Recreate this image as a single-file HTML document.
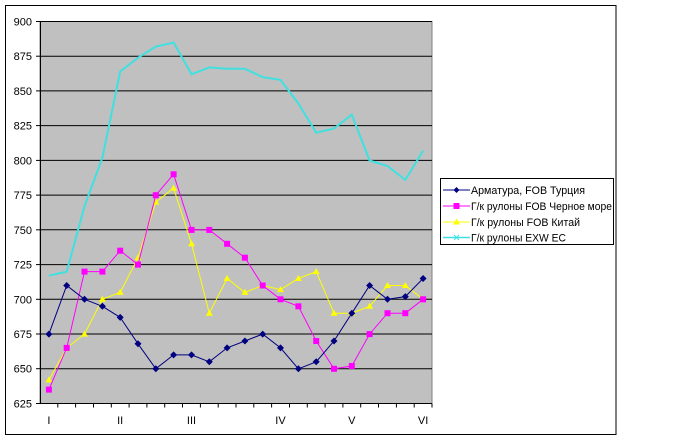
<!DOCTYPE html>
<html><head><meta charset="utf-8"><style>
html,body{margin:0;padding:0;background:#fff;}
svg{display:block;}
text{font-family:"Liberation Sans",Arial,sans-serif;font-size:11px;fill:#000;}
</style></head><body>
<svg width="674" height="442" viewBox="0 0 674 442" xmlns="http://www.w3.org/2000/svg">
<rect x="0" y="0" width="674" height="442" fill="#fff"/>
<rect x="5.5" y="5.5" width="610.5" height="429" fill="none" stroke="#000" stroke-width="1"/>
<!-- plot area -->
<rect x="40" y="21.5" width="392" height="382" fill="#C0C0C0" stroke="#808080" stroke-width="1"/>
<g stroke="#000" stroke-width="1">
<line x1="40" y1="21.5" x2="432" y2="21.5"/>
<line x1="40" y1="56.2" x2="432" y2="56.2"/>
<line x1="40" y1="90.9" x2="432" y2="90.9"/>
<line x1="40" y1="125.6" x2="432" y2="125.6"/>
<line x1="40" y1="160.4" x2="432" y2="160.4"/>
<line x1="40" y1="195.1" x2="432" y2="195.1"/>
<line x1="40" y1="229.8" x2="432" y2="229.8"/>
<line x1="40" y1="264.6" x2="432" y2="264.6"/>
<line x1="40" y1="299.3" x2="432" y2="299.3"/>
<line x1="40" y1="334.0" x2="432" y2="334.0"/>
<line x1="40" y1="368.7" x2="432" y2="368.7"/>
<line x1="40.5" y1="21.5" x2="40.5" y2="403.5"/>
<line x1="40" y1="403.5" x2="432" y2="403.5"/>
<!-- y ticks -->
<line x1="36" y1="21.5" x2="40" y2="21.5"/>
<line x1="36" y1="56.2" x2="40" y2="56.2"/>
<line x1="36" y1="90.9" x2="40" y2="90.9"/>
<line x1="36" y1="125.6" x2="40" y2="125.6"/>
<line x1="36" y1="160.4" x2="40" y2="160.4"/>
<line x1="36" y1="195.1" x2="40" y2="195.1"/>
<line x1="36" y1="229.8" x2="40" y2="229.8"/>
<line x1="36" y1="264.6" x2="40" y2="264.6"/>
<line x1="36" y1="299.3" x2="40" y2="299.3"/>
<line x1="36" y1="334.0" x2="40" y2="334.0"/>
<line x1="36" y1="368.7" x2="40" y2="368.7"/>
<line x1="36" y1="403.5" x2="40" y2="403.5"/>
<!-- x ticks -->
<line x1="57.8" y1="403.5" x2="57.8" y2="407.5"/>
<line x1="75.6" y1="403.5" x2="75.6" y2="407.5"/>
<line x1="93.5" y1="403.5" x2="93.5" y2="407.5"/>
<line x1="111.3" y1="403.5" x2="111.3" y2="407.5"/>
<line x1="129.1" y1="403.5" x2="129.1" y2="407.5"/>
<line x1="146.9" y1="403.5" x2="146.9" y2="407.5"/>
<line x1="164.7" y1="403.5" x2="164.7" y2="407.5"/>
<line x1="182.5" y1="403.5" x2="182.5" y2="407.5"/>
<line x1="200.4" y1="403.5" x2="200.4" y2="407.5"/>
<line x1="218.2" y1="403.5" x2="218.2" y2="407.5"/>
<line x1="236.0" y1="403.5" x2="236.0" y2="407.5"/>
<line x1="253.8" y1="403.5" x2="253.8" y2="407.5"/>
<line x1="271.6" y1="403.5" x2="271.6" y2="407.5"/>
<line x1="289.5" y1="403.5" x2="289.5" y2="407.5"/>
<line x1="307.3" y1="403.5" x2="307.3" y2="407.5"/>
<line x1="325.1" y1="403.5" x2="325.1" y2="407.5"/>
<line x1="342.9" y1="403.5" x2="342.9" y2="407.5"/>
<line x1="360.7" y1="403.5" x2="360.7" y2="407.5"/>
<line x1="378.5" y1="403.5" x2="378.5" y2="407.5"/>
<line x1="396.4" y1="403.5" x2="396.4" y2="407.5"/>
<line x1="414.2" y1="403.5" x2="414.2" y2="407.5"/>
<line x1="432" y1="403.5" x2="432" y2="407.5"/>
</g>
<!-- y labels -->
<g text-anchor="end">
<text x="32" y="25.5">900</text>
<text x="32" y="60.2">875</text>
<text x="32" y="94.9">850</text>
<text x="32" y="129.6">825</text>
<text x="32" y="164.4">800</text>
<text x="32" y="199.1">775</text>
<text x="32" y="233.8">750</text>
<text x="32" y="268.6">725</text>
<text x="32" y="303.3">700</text>
<text x="32" y="338.0">675</text>
<text x="32" y="372.7">650</text>
<text x="32" y="407.5">625</text>
</g>
<!-- x labels -->
<g text-anchor="middle">
<text x="48.9" y="424">I</text>
<text x="120.2" y="424">II</text>
<text x="191.5" y="424">III</text>
<text x="280.5" y="424">IV</text>
<text x="351.8" y="424">V</text>
<text x="423.1" y="424">VI</text>
</g>
<!-- cyan series -->
<polyline fill="none" stroke="#40E0E0" stroke-width="2" points="48.9,275.7 66.7,271.6 84.5,206.3 102.4,157.7 120.2,71.5 138.0,57.7 155.8,46.6 173.6,42.5 191.5,74.3 209.3,67.4 227.1,68.8 244.9,68.8 262.7,77.1 280.5,79.9 298.4,103.5 316.2,132.7 334.0,128.5 351.8,114.6 369.6,160.5 387.5,166.0 405.3,179.9 423.1,150.7"/>
<!-- yellow series -->
<polyline fill="none" stroke="#FFFF00" stroke-width="1" points="48.9,379.9 66.7,347.9 84.5,334.1 102.4,299.3 120.2,292.4 138.0,257.7 155.8,202.1 173.6,188.2 191.5,243.8 209.3,313.2 227.1,278.5 244.9,292.4 262.7,285.5 280.5,289.6 298.4,278.5 316.2,271.6 334.0,313.2 351.8,313.2 369.6,306.3 387.5,285.5 405.3,285.5 423.1,299.3"/>
<g fill="#FFFF00">
<polygon points="48.9,376.4 52.4,382.4 45.4,382.4"/>
<polygon points="66.7,344.4 70.2,350.4 63.2,350.4"/>
<polygon points="84.5,330.6 88,336.6 81,336.6"/>
<polygon points="102.4,295.8 105.9,301.8 98.9,301.8"/>
<polygon points="120.2,288.9 123.7,294.9 116.7,294.9"/>
<polygon points="138.0,254.2 141.5,260.2 134.5,260.2"/>
<polygon points="155.8,198.6 159.3,204.6 152.3,204.6"/>
<polygon points="173.6,184.7 177.1,190.7 170.1,190.7"/>
<polygon points="191.5,240.3 195,246.3 188,246.3"/>
<polygon points="209.3,309.7 212.8,315.7 205.8,315.7"/>
<polygon points="227.1,275 230.6,281 223.6,281"/>
<polygon points="244.9,288.9 248.4,294.9 241.4,294.9"/>
<polygon points="262.7,282 266.2,288 259.2,288"/>
<polygon points="280.5,286.1 284,292.1 277,292.1"/>
<polygon points="298.4,275 301.9,281 294.9,281"/>
<polygon points="316.2,268.1 319.7,274.1 312.7,274.1"/>
<polygon points="334.0,309.7 337.5,315.7 330.5,315.7"/>
<polygon points="351.8,309.7 355.3,315.7 348.3,315.7"/>
<polygon points="369.6,302.8 373.1,308.8 366.1,308.8"/>
<polygon points="387.5,282 391,288 384,288"/>
<polygon points="405.3,282 408.8,288 401.8,288"/>
<polygon points="423.1,295.8 426.6,301.8 419.6,301.8"/>
</g>
<!-- pink series -->
<polyline fill="none" stroke="#FF00FF" stroke-width="1" points="48.9,389.6 66.7,347.9 84.5,271.6 102.4,271.6 120.2,250.7 138.0,264.6 155.8,195.2 173.6,174.3 191.5,229.9 209.3,229.9 227.1,243.8 244.9,257.7 262.7,285.5 280.5,299.3 298.4,306.3 316.2,341.0 334.0,368.8 351.8,366.0 369.6,334.1 387.5,313.2 405.3,313.2 423.1,299.3"/>
<g fill="#FF00FF">
<rect x="45.9" y="386.6" width="6" height="6"/>
<rect x="63.7" y="344.9" width="6" height="6"/>
<rect x="81.5" y="268.6" width="6" height="6"/>
<rect x="99.4" y="268.6" width="6" height="6"/>
<rect x="117.2" y="247.7" width="6" height="6"/>
<rect x="135.0" y="261.6" width="6" height="6"/>
<rect x="152.8" y="192.2" width="6" height="6"/>
<rect x="170.6" y="171.3" width="6" height="6"/>
<rect x="188.5" y="226.9" width="6" height="6"/>
<rect x="206.3" y="226.9" width="6" height="6"/>
<rect x="224.1" y="240.8" width="6" height="6"/>
<rect x="241.9" y="254.7" width="6" height="6"/>
<rect x="259.7" y="282.5" width="6" height="6"/>
<rect x="277.5" y="296.3" width="6" height="6"/>
<rect x="295.4" y="303.3" width="6" height="6"/>
<rect x="313.2" y="338.0" width="6" height="6"/>
<rect x="331.0" y="365.8" width="6" height="6"/>
<rect x="348.8" y="363.0" width="6" height="6"/>
<rect x="366.6" y="331.1" width="6" height="6"/>
<rect x="384.5" y="310.2" width="6" height="6"/>
<rect x="402.3" y="310.2" width="6" height="6"/>
<rect x="420.1" y="296.3" width="6" height="6"/>
</g>
<!-- blue series -->
<polyline fill="none" stroke="#000080" stroke-width="1" points="48.9,334.1 66.7,285.5 84.5,299.3 102.4,306.3 120.2,317.4 138.0,343.8 155.8,368.8 173.6,354.9 191.5,354.9 209.3,361.8 227.1,347.9 244.9,341.0 262.7,334.1 280.5,347.9 298.4,368.8 316.2,361.8 334.0,341.0 351.8,313.2 369.6,285.5 387.5,299.3 405.3,296.6 423.1,278.5"/>
<g fill="#000080">
<polygon points="48.9,330.6 52.4,334.1 48.9,337.6 45.4,334.1"/>
<polygon points="66.7,282 70.2,285.5 66.7,289 63.2,285.5"/>
<polygon points="84.5,295.8 88,299.3 84.5,302.8 81,299.3"/>
<polygon points="102.4,302.8 105.9,306.3 102.4,309.8 98.9,306.3"/>
<polygon points="120.2,313.9 123.7,317.4 120.2,320.9 116.7,317.4"/>
<polygon points="138.0,340.3 141.5,343.8 138.0,347.3 134.5,343.8"/>
<polygon points="155.8,365.3 159.3,368.8 155.8,372.3 152.3,368.8"/>
<polygon points="173.6,351.4 177.1,354.9 173.6,358.4 170.1,354.9"/>
<polygon points="191.5,351.4 195,354.9 191.5,358.4 188,354.9"/>
<polygon points="209.3,358.3 212.8,361.8 209.3,365.3 205.8,361.8"/>
<polygon points="227.1,344.4 230.6,347.9 227.1,351.4 223.6,347.9"/>
<polygon points="244.9,337.5 248.4,341 244.9,344.5 241.4,341"/>
<polygon points="262.7,330.6 266.2,334.1 262.7,337.6 259.2,334.1"/>
<polygon points="280.5,344.4 284,347.9 280.5,351.4 277,347.9"/>
<polygon points="298.4,365.3 301.9,368.8 298.4,372.3 294.9,368.8"/>
<polygon points="316.2,358.3 319.7,361.8 316.2,365.3 312.7,361.8"/>
<polygon points="334.0,337.5 337.5,341 334.0,344.5 330.5,341"/>
<polygon points="351.8,309.7 355.3,313.2 351.8,316.7 348.3,313.2"/>
<polygon points="369.6,282 373.1,285.5 369.6,289 366.1,285.5"/>
<polygon points="387.5,295.8 391,299.3 387.5,302.8 384,299.3"/>
<polygon points="405.3,293.1 408.8,296.6 405.3,300.1 401.8,296.6"/>
<polygon points="423.1,275 426.6,278.5 423.1,282 419.6,278.5"/>
</g>
<!-- legend -->
<rect x="440.5" y="178.5" width="173" height="66" fill="#fff" stroke="#000" stroke-width="1"/>
<line x1="443" y1="190" x2="470" y2="190" stroke="#000080" stroke-width="1"/>
<polygon points="456.5,187 459.5,190 456.5,193 453.5,190" fill="#000080"/>
<text x="471" y="194" textLength="114" lengthAdjust="spacingAndGlyphs">Арматура, FOB Турция</text>
<line x1="443" y1="206" x2="470" y2="206" stroke="#FF00FF" stroke-width="1"/>
<rect x="453.5" y="203" width="6" height="6" fill="#FF00FF"/>
<text x="471" y="210" textLength="141" lengthAdjust="spacingAndGlyphs">Г/к рулоны FOB Черное море</text>
<line x1="443" y1="222" x2="470" y2="222" stroke="#FFFF00" stroke-width="1"/>
<polygon points="456.5,218.5 460,224.5 453,224.5" fill="#FFFF00"/>
<text x="471" y="226" textLength="109" lengthAdjust="spacingAndGlyphs">Г/к рулоны FOB Китай</text>
<line x1="443" y1="237.5" x2="470" y2="237.5" stroke="#40E0E0" stroke-width="1.5"/>
<path d="M454,235 L459,240 M459,235 L454,240" stroke="#40E0E0" stroke-width="1"/>
<text x="471" y="241.5" textLength="95" lengthAdjust="spacingAndGlyphs">Г/к рулоны EXW EC</text>
</svg>
</body></html>
